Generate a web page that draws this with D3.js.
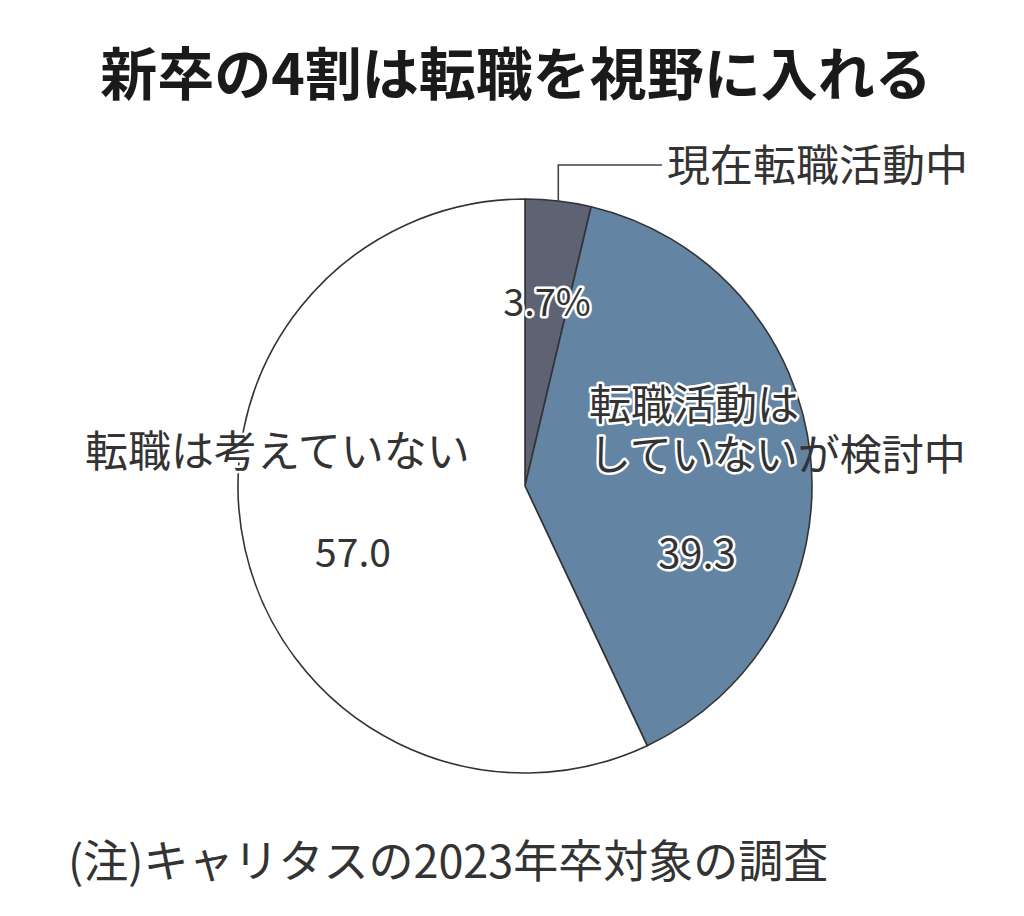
<!DOCTYPE html>
<html>
<head>
<meta charset="utf-8">
<script src="https://cdn.jsdelivr.net/npm/d3@7/dist/d3.min.js"></script>
<style>
  html, body { margin: 0; padding: 0; background: #ffffff; }
  svg { display: block; }
  text { font-family: "Noto Sans CJK JP", "Noto Sans", sans-serif; }
</style>
</head>
<body>
<svg id="chart" width="1024" height="916"></svg>
<script>
const title = "新卒の4割は転職を視野に入れる";
const categories = ["現在転職活動中", "転職活動はしていないが検討中", "転職は考えていない"];
const values = [3.7, 39.3, 57.0];
const valueLabels = ["3.7%", "39.3", "57.0"];
const colors = ["#5d6372", "#6385a3", "#ffffff"];
const note = "(注)キャリタスの2023年卒対象の調査";

const svg = d3.select("#chart");
const cx = 525, cy = 486, r = 287;

svg.append("text")
  .attr("x", 516).attr("y", 95)
  .attr("text-anchor", "middle")
  .attr("font-size", 57).attr("font-weight", 700)
  .attr("fill", "#1a1a1a")
  .text(title);

const pie = d3.pie().sort(null).value(d => d)(values);
const arc = d3.arc().innerRadius(0).outerRadius(r);

const g = svg.append("g").attr("transform", `translate(${cx},${cy})`);
g.selectAll("path").data(pie).join("path")
  .attr("d", arc)
  .attr("fill", (d, i) => colors[i])
  .attr("stroke", "#333")
  .attr("stroke-width", 1.6)
  .attr("stroke-linejoin", "round");

// leader line for the small slice
const a0 = (pie[0].startAngle + pie[0].endAngle) / 2;
const px = cx + r * Math.sin(a0), py = cy - r * Math.cos(a0);
svg.append("path")
  .attr("d", `M${px},${py} L${px},165 L662,165`)
  .attr("fill", "none").attr("stroke", "#444").attr("stroke-width", 1.6);

function halo(sel) {
  return sel.attr("stroke", "#ffffff").attr("stroke-width", 5)
    .attr("stroke-linejoin", "round").attr("paint-order", "stroke");
}
function label(x, y, txt, size, useHalo, anchor) {
  const t = svg.append("text")
    .attr("x", x).attr("y", y)
    .attr("text-anchor", anchor || "start")
    .attr("font-size", size)
    .attr("fill", "#333")
    .text(txt);
  if (useHalo) halo(t);
  return t;
}

label(667, 181, categories[0], 43, false);
label(547, 316, valueLabels[0], 38, true, "middle");

// two-line label for the middle slice, one text element
const t2 = svg.append("text").attr("font-size", 42).attr("fill", "#333");
halo(t2.append("tspan").attr("x", 589).attr("y", 420).text("転職活動は"));
halo(t2.append("tspan").attr("x", 589).attr("y", 470).text("していない"));
t2.append("tspan").attr("stroke", "none").text("が検討中");

label(697, 568, valueLabels[1], 40, true, "middle");

label(85, 467, categories[2], 43, true);
label(353, 567, valueLabels[2], 39, false, "middle");

svg.append("text")
  .attr("x", 68).attr("y", 878)
  .attr("font-size", 45).attr("fill", "#333")
  .text(note);
</script>
</body>
</html>
